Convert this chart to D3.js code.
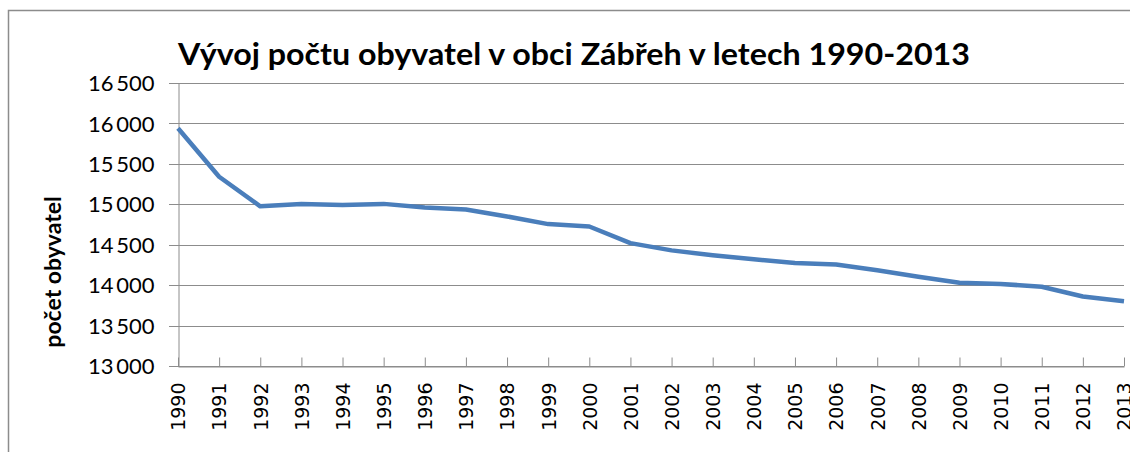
<!DOCTYPE html>
<html>
<head>
<meta charset="utf-8">
<script src="https://cdn.jsdelivr.net/npm/d3@7"></script>
<style>
    body { margin: 0; background: #fff; }
    #chart-svg { display: block; }
    .grid line { stroke: #8c8c8c; stroke-width: 1; }
    .line { fill: none; stroke: #4a7ebb; stroke-width: 4.5; stroke-linejoin: round; }
</style>
</head>
<body>
<svg id="chart-svg"></svg>
<script>
// chart.js -- Population of Zábřeh 1990-2013.

// ----------------------------------------------------------------------------
// Data
// ----------------------------------------------------------------------------

var years = ["1990", "1991", "1992", "1993", "1994", "1995", "1996", "1997",
             "1998", "1999", "2000", "2001", "2002", "2003", "2004", "2005",
             "2006", "2007", "2008", "2009", "2010", "2011", "2012", "2013"];

var population = [15940, 15340, 14975, 15005, 14990, 15005, 14960, 14935,
                  14850, 14755, 14725, 14520, 14430, 14370, 14320, 14275,
                  14255, 14185, 14105, 14030, 14015, 13980, 13860, 13800];

var yTicks = [13000, 13500, 14000, 14500, 15000, 15500, 16000, 16500];

var chartTitle = "Vývoj počtu obyvatel v obci Zábřeh v letech 1990-2013";
var yAxisTitle = "počet obyvatel";


// ----------------------------------------------------------------------------
// Drawing
// ----------------------------------------------------------------------------

// thin space as thousands separator, like the Czech Excel format
var formatNum = function(d) {
    return d3.format(",")(d).replace(",", "\u2009");
};

function displayChart() {
    var width = 1130, height = 452;
    var margin = {top: 83, right: 6, bottom: 86, left: 178};

    var svg = d3.select("#chart-svg")
        .attr("width", width)
        .attr("height", height);

    // chart area border
    svg.append("rect")
        .attr("x", 8.5)
        .attr("y", 10.5)
        .attr("width", 1130)
        .attr("height", 460)
        .attr("fill", "none")
        .attr("stroke", "#8c8c8c")
        .attr("stroke-width", 1.5);

    var x = d3.scalePoint()
        .domain(years)
        .range([margin.left, width - margin.right]);

    var y = d3.scaleLinear()
        .domain([13000, 16500])
        .range([height - margin.bottom, margin.top]);

    // horizontal gridlines, sticking out left as tick marks
    svg.append("g")
        .attr("class", "grid")
        .selectAll("line")
        .data(yTicks)
        .enter().append("line")
        .attr("x1", margin.left - 9)
        .attr("x2", width - margin.right)
        .attr("y1", function(d) { return Math.round(y(d)) + 0.5; })
        .attr("y2", function(d) { return Math.round(y(d)) + 0.5; });

    // Y axis
    var yAxis = svg.append("g")
        .attr("transform", "translate(" + (margin.left + 0.5) + ",0)")
        .call(d3.axisLeft(y).tickValues(yTicks).tickFormat(formatNum)
              .tickSize(0).tickPadding(24));
    yAxis.select(".domain").attr("stroke", "#8c8c8c");
    yAxis.selectAll("text")
        .attr("fill", "#000")
        .style("font-family", "Lato, 'Open Sans', sans-serif")
        .style("font-size", "22px")
        .attr("dy", "0.35em");

    // X axis, ticks pointing up into the plot
    var xAxis = svg.append("g")
        .attr("transform", "translate(0," + (Math.round(y(13000)) + 0.5) + ")")
        .call(d3.axisBottom(x).tickSizeInner(-9).tickSizeOuter(0).tickPadding(0));
    xAxis.select(".domain").attr("stroke", "#8c8c8c");
    xAxis.selectAll(".tick line").attr("stroke", "#8c8c8c");
    xAxis.selectAll("text")
        .attr("fill", "#000")
        .style("font-family", "'DejaVu Sans', sans-serif")
        .style("font-size", "19px")
        .attr("text-anchor", "end")
        .attr("transform", "rotate(-90)")
        .attr("x", -16)
        .attr("y", 0)
        .attr("dy", "0.36em");

    // population line
    var valueline = d3.line()
        .x(function(d, i) { return x(years[i]); })
        .y(function(d) { return y(d); });

    svg.append("path")
        .datum(population)
        .attr("class", "line")
        .attr("d", valueline);

    // title
    svg.append("text")
        .attr("x", 178)
        .attr("y", 65)
        .attr("textLength", 792)
        .attr("lengthAdjust", "spacingAndGlyphs")
        .style("font-family", "Lato, 'Open Sans', sans-serif")
        .style("font-weight", "bold")
        .style("font-size", "30px")
        .text(chartTitle);

    // Y axis title
    svg.append("text")
        .attr("transform", "translate(61,272) rotate(-90)")
        .attr("text-anchor", "middle")
        .style("font-family", "Lato, 'Open Sans', sans-serif")
        .style("font-weight", "bold")
        .style("font-size", "23px")
        .text(yAxisTitle);
}

displayChart();
</script>
</body>
</html>
